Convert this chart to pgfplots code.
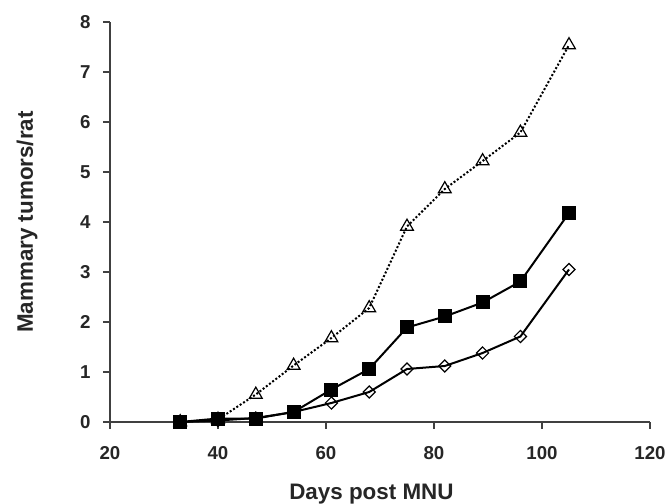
\documentclass[border=0pt]{standalone}
\usepackage{fontspec}
\setmainfont{Liberation Sans}
\usepackage{pgfplots}
\pgfplotsset{compat=1.18}
\begin{document}
\begin{tikzpicture}
\useasboundingbox (-82.5pt,-61.5pt) rectangle (416.25pt,316.5pt);
\begin{axis}[
  at={(0,0)}, anchor=south west,
  scale only axis, width=405pt, height=300pt,
  xmin=20, xmax=120, ymin=0, ymax=8,
  xtick={20,40,...,120}, ytick={0,1,...,8},
  axis lines*=left,
  axis line style={black!75, line width=0.9pt},
  tick align=outside,
  major tick length=5pt,
  tick style={black!75, line width=0.9pt},
  /pgf/number format/assume math mode=true,
  ticklabel style={font=\fontsize{14}{16}\selectfont\bfseries, text=black!85},
  xticklabel style={yshift=-10pt},
  yticklabel style={xshift=-6pt},
  label style={font=\fontsize{16.8}{20}\selectfont\bfseries, text=black!85},
  xlabel={Days post MNU},
  ylabel={Mammary tumors/rat},
  xlabel style={at={(axis description cs:0.5,0)}, anchor=base, yshift=-57.75pt, xshift=-6.4pt},
  ylabel style={at={(axis description cs:0,0.5)}, anchor=base, yshift=57.75pt},
  clip=false,
]
\addplot[black, line width=1.5pt, mark=square, mark size=3.2pt,
  mark options={rotate=45, fill=white, solid, line width=0.9pt}]
  coordinates {(33,0) (40,0.03) (47,0.08) (54,0.2) (61,0.38) (68,0.6) (75,1.06) (82,1.12) (89,1.38) (96,1.71) (105,3.05)};
\addplot[black, line width=1.5pt, mark=square*, mark size=4.5pt,
  mark options={fill=black, solid}]
  coordinates {(33,0) (40,0.07) (47,0.07) (54,0.2) (61,0.65) (68,1.06) (75,1.89) (82,2.11) (89,2.39) (96,2.81) (105,4.18)};
\addplot[black, line width=1.5pt, dash pattern=on 1.5pt off 1.5pt, mark=triangle, mark size=5.5pt,
  mark options={fill=white, solid, line width=0.9pt}]
  coordinates {(33,0) (40,0.05) (47,0.55) (54,1.13) (61,1.68) (68,2.28) (75,3.91) (82,4.66) (89,5.22) (96,5.79) (105,7.54)};
\end{axis}
\end{tikzpicture}
\end{document}
